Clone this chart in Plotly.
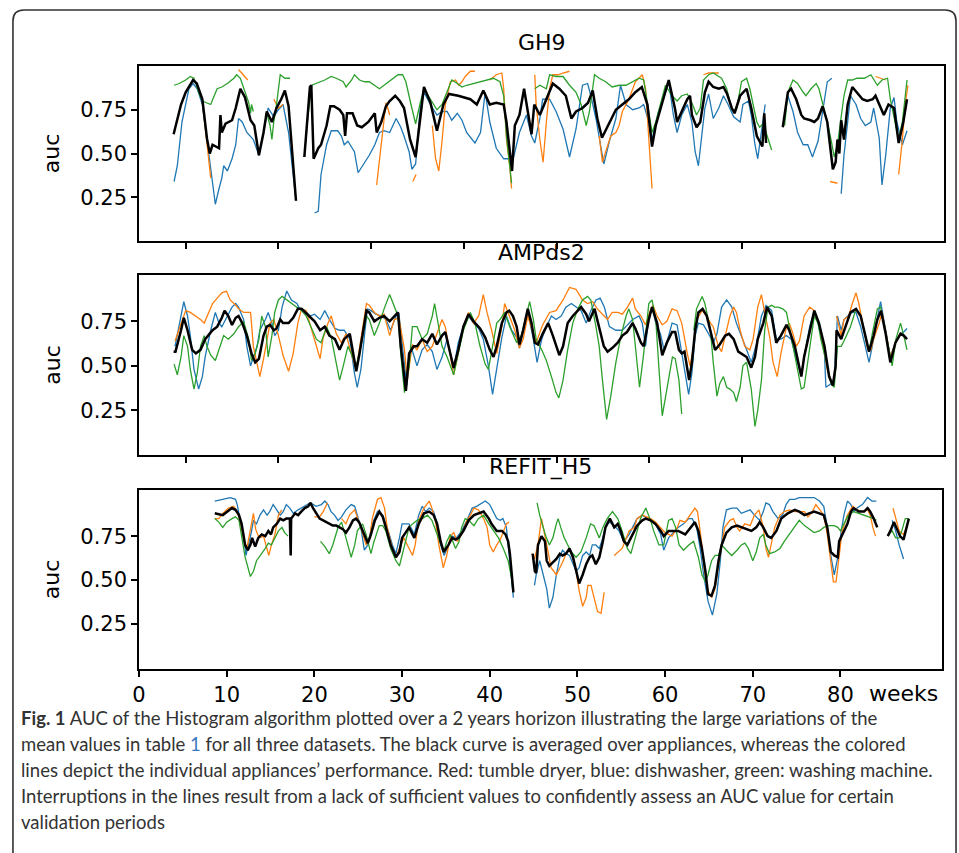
import plotly.graph_objects as go

# ---------------- data (week, auc) ; (None, None) marks a gap ----------------
gh9_black = [(8.7,.61),(9.0,.68),(9.5,.78),(10.0,.85),(10.8,.92),(11.2,.90),(11.8,.81),(12.3,.585),(12.6,.50),(12.9,.55),(13.2,.54),(13.6,.53),(13.75,.72),(13.9,.62),(14.3,.67),(15.0,.69),(15.4,.76),(15.9,.87),(16.4,.82),(17.0,.69),(17.4,.66),(17.9,.49),(18.4,.62),(18.75,.74),(19.3,.68),(19.8,.76),(20.3,.81),(20.7,.86),(21.1,.77),(21.4,.55),(21.9,.23),(None,None),
             (22.8,.48),(23.4,.88),(23.55,.89),(23.8,.47),(24.3,.53),(24.6,.55),(25.2,.66),(25.6,.77),(26.0,.77),(26.6,.75),(27.0,.72),(27.2,.60),(27.4,.73),(28.0,.73),(28.5,.66),(29.0,.65),(29.7,.68),(30.4,.73),(30.6,.62),(31.1,.68),(31.6,.77),(32.0,.80),(32.6,.83),(33.1,.80),(33.55,.76),(34.2,.58),(34.8,.48),(35.7,.88),(36.4,.79),(37.1,.63),(37.8,.78),(38.4,.84),(39.4,.83),(40.7,.81),(41.4,.78),(42.1,.86),(42.8,.78),(43.5,.79),(44.3,.78),(44.6,.68),(45.2,.40),(45.5,.66),(46.0,.72),(46.5,.87),(46.9,.74),(47.3,.61),(47.6,.78),(48.2,.72),(48.9,.81),(49.6,.90),(50.3,.87),(51.0,.83),(51.6,.70),(52.1,.74),(52.8,.76),(53.4,.79),(53.9,.86),(54.4,.70),(54.9,.59),(55.7,.68),(56.4,.75),(57.1,.78),(57.8,.81),(58.5,.85),(59.2,.88),(59.8,.78),(60.3,.54),(60.7,.66),(61.4,.79),(62.1,.92),(62.8,.75),(63.0,.68),(63.5,.74),(64.1,.81),(64.4,.83),(64.6,.72),(65.1,.65),(65.5,.68),(66.0,.85),(66.4,.91),(66.9,.88),(67.5,.87),(68.0,.88),(68.4,.84),(68.9,.76),(69.2,.73),(69.8,.83),(70.5,.87),(71.0,.76),(71.6,.60),(72.2,.54),(72.4,.73),(72.6,.56),(None,None),
             (74.4,.65),(74.95,.85),(75.3,.87),(75.85,.81),(76.4,.72),(76.7,.70),(77.4,.69),(77.8,.68),(78.2,.70),(78.7,.77),(79.2,.68),(79.6,.49),(79.8,.41),(80.1,.45),(80.3,.58),(80.5,.50),(80.7,.69),(81.0,.58),(81.4,.78),(81.9,.88),(82.4,.85),(83.0,.81),(83.5,.80),(84.1,.81),(84.4,.83),(84.8,.78),(85.3,.72),(85.8,.78),(86.4,.76),(86.9,.56),(87.4,.68),(87.8,.81)]
gh9_blue = [(8.75,.34),(9.1,.43),(9.6,.68),(10.35,.87),(10.8,.90),(11.25,.87),(11.8,.78),(12.3,.58),(12.7,.40),(13.2,.21),(13.6,.30),(13.9,.36),(14.1,.43),(14.5,.40),(15.0,.47),(15.4,.55),(15.7,.70),(16.1,.68),(16.6,.62),(17.3,.58),(17.9,.49),(18.4,.62),(18.9,.76),(19.5,.71),(20.0,.75),(20.5,.78),(21.1,.62),(21.4,.47),(21.9,.23),(None,None),
            (23.9,.16),(24.3,.17),(24.6,.38),(25.2,.55),(25.7,.63),(26.4,.63),(26.8,.60),(27.1,.55),(27.5,.57),(28.2,.51),(28.6,.39),(29.3,.45),(29.8,.49),(30.4,.55),(30.9,.62),(31.4,.63),(32.0,.62),(32.7,.70),(33.2,.65),(33.55,.60),(34.1,.51),(34.4,.41),(34.8,.44),(35.3,.76),(35.7,.85),(36.4,.78),(37.1,.72),(37.65,.74),(38.2,.74),(38.7,.69),(39.3,.73),(39.8,.69),(40.3,.62),(41.2,.56),(41.8,.62),(42.3,.85),(42.8,.68),(43.5,.53),(44.3,.47),(44.95,.47),(45.15,.43),(46.0,.62),(46.75,.72),(47.3,.60),(47.65,.56),(48.2,.70),(48.5,.81),(49.25,.81),(49.95,.74),(50.7,.64),(51.4,.48),(52.1,.64),(52.8,.89),(53.35,.90),(53.7,.83),(54.25,.70),(54.8,.53),(55.1,.44),(55.7,.57),(56.4,.70),(56.9,.89),(57.5,.78),(58.2,.75),(58.9,.76),(59.4,.78),(59.95,.68),(60.3,.58),(61.0,.74),(62.1,.91),(62.6,.72),(63.0,.62),(63.5,.72),(64.1,.78),(64.6,.68),(64.95,.51),(65.3,.43),(65.7,.62),(66.0,.76),(66.4,.84),(66.9,.70),(67.5,.76),(68.0,.83),(68.5,.78),(69.1,.71),(69.8,.68),(70.1,.78),(70.7,.80),(71.0,.72),(71.4,.55),(71.7,.47),(71.9,.55),(72.3,.70),(72.5,.78),(None,None),
            (74.95,.83),(75.5,.74),(76.0,.62),(76.6,.55),(77.1,.55),(77.6,.48),(78.2,.57),(78.7,.74),(79.2,.91),(79.7,.93),(None,None),
            (80.7,.27),(81.0,.49),(81.4,.68),(81.7,.83),(82.3,.78),(82.8,.70),(83.3,.66),(83.9,.68),(84.2,.76),(84.8,.59),(85.1,.32),(85.5,.49),(86.0,.76),(86.4,.82),(86.7,.68),(87.3,.55),(87.8,.63)]
gh9_green = [(8.75,.89),(9.3,.90),(10.0,.92),(10.5,.94),(10.9,.93),(11.4,.85),(11.8,.80),(12.3,.79),(12.7,.78),(13.0,.82),(13.4,.87),(13.9,.88),(14.5,.90),(15.2,.93),(15.5,.95),(15.9,.93),(16.25,.88),(16.8,.79),(17.0,.73),(17.1,.78),(17.3,.74),(None,None),
             (18.75,.73),(19.1,.66),(19.3,.58),(19.5,.68),(19.8,.78),(20.2,.95),(20.7,.93),(21.25,.93),(None,None),
             (22.8,.48),(23.2,.72),(23.6,.89),(24.1,.90),(25.0,.92),(25.7,.94),(26.25,.93),(27.0,.91),(27.3,.88),(27.9,.92),(28.2,.95),(28.75,.92),(29.3,.91),(29.8,.91),(30.35,.89),(30.9,.87),(31.4,.89),(32.1,.92),(32.9,.95),(33.4,.95),(33.75,.91),(34.3,.78),(34.8,.67),(35.3,.79),(35.7,.87),(36.4,.81),(37.1,.75),(37.65,.78),(38.2,.85),(38.7,.92),(39.3,.90),(39.8,.88),(40.3,.89),(41.05,.90),(41.75,.91),(42.5,.92),(43.2,.93),(43.9,.91),(44.3,.83),(44.6,.60),(45.15,.33),(None,None),
             (47.65,.87),(48.2,.89),(48.9,.87),(49.25,.95),(49.95,.94),(50.7,.94),(51.4,.89),(52.1,.85),(52.65,.78),(53.2,.66),(53.55,.74),(54.1,.95),(54.6,.93),(55.3,.91),(56.0,.88),(56.75,.89),(57.5,.89),(58.2,.91),(58.9,.93),(59.4,.92),(59.8,.78),(60.3,.62),(60.7,.68),(61.75,.89),(62.46,.83),(63.0,.80),(63.5,.83),(64.1,.84),(64.6,.79),(65.1,.72),(65.5,.76),(65.85,.92),(66.4,.95),(66.9,.96),(67.5,.94),(67.8,.93),(68.35,.87),(68.9,.75),(69.4,.75),(69.95,.91),(70.5,.93),(70.85,.87),(71.2,.78),(71.6,.68),(71.9,.65),(72.3,.67),(72.6,.62),(73.2,.52),(None,None),
             (74.6,.66),(74.95,.85),(75.5,.92),(76.0,.90),(76.6,.85),(76.9,.83),(77.45,.87),(78.0,.90),(78.3,.87),(78.7,.79),(79.2,.68),(79.6,.58),(79.95,.48),(80.3,.55),(80.7,.70),(81.0,.83),(81.4,.92),(81.9,.92),(82.4,.93),(83.2,.93),(83.9,.95),(84.6,.89),(85.1,.92),(85.7,.93),(86.0,.81),(86.55,.68),(86.9,.58),(87.3,.68),(87.6,.83),(87.8,.92)]
gh9_orange = [(11.8,.80),(12.3,.57),(12.7,.36),(None,None),(15.7,.98),(16.7,.92),(None,None),(19.5,.81),(20.0,.76),(20.5,.78),(None,None),
              (30.6,.32),(31.25,.62),(31.6,.79),(31.8,.76),(32.0,.72),(None,None),(34.5,.34),(34.85,.38),(None,None),
              (36.6,.66),(36.95,.47),(37.3,.40),(37.65,.57),(38.0,.78),(38.55,.91),(39.1,.92),(39.45,.89),(39.8,.91),(40.15,.94),(40.7,.97),(41.2,.97),(None,None),
              (42.8,.92),(43.5,.95),(44.1,.96),(44.3,.87),(44.6,.58),(44.95,.43),(45.15,.30),(None,None),
              (47.65,.95),(47.8,.78),(48.2,.58),(48.55,.45),(48.9,.68),(49.25,.87),(49.6,.95),(50.15,.95),(50.7,.96),(51.4,.97),(None,None),
              (54.6,.60),(54.95,.45),(55.3,.51),(55.85,.60),(56.4,.62),(56.75,.66),(57.1,.74),(57.8,.81),(58.5,.91),(59.25,.95),(59.6,.87),(59.95,.58),(60.3,.30),(None,None),
              (65.85,.95),(66.4,.96),(67.5,.96),(None,None),(79.5,.34),(80.3,.33),(None,None),(84.4,.94),(85.5,.92),(None,None),
              (86.9,.38),(87.3,.58),(87.6,.78),(87.9,.89)]

amp_black = [(8.7,.58),(8.9,.58),(9.5,.70),(9.8,.77),(10.2,.70),(10.7,.59),(11.1,.57),(11.6,.59),(12.1,.65),(12.9,.70),(13.4,.72),(13.9,.77),(14.2,.81),(14.6,.78),(15.0,.73),(15.4,.77),(15.7,.78),(16.1,.74),(16.6,.67),(17.1,.57),(17.5,.52),(17.9,.54),(18.4,.67),(18.75,.72),(19.1,.73),(19.5,.70),(19.8,.71),(20.2,.76),(20.5,.74),(21.1,.74),(21.6,.77),(22.1,.82),(22.5,.82),(22.9,.80),(23.4,.77),(23.9,.75),(24.5,.70),(25.0,.72),(25.5,.67),(26.1,.65),(26.6,.59),(27.1,.65),(27.7,.68),(28.0,.59),(28.4,.47),(28.75,.57),(29.1,.69),(29.5,.81),(29.8,.80),(30.35,.75),(30.9,.77),(31.4,.78),(32.0,.75),(32.5,.78),(32.9,.80),(33.2,.61),(33.75,.36),(34.1,.57),(34.6,.61),(34.95,.61),(35.5,.65),(36.05,.63),(36.6,.68),(37.1,.62),(37.65,.67),(38.0,.69),(38.55,.57),(38.9,.49),(39.4,.59),(39.95,.72),(40.5,.79),(41.05,.75),(41.75,.71),(42.3,.66),(42.8,.59),(43.2,.55),(43.55,.61),(44.1,.74),(44.6,.80),(44.9,.81),(45.3,.78),(45.7,.72),(46.0,.62),(46.4,.70),(46.9,.82),(47.3,.74),(47.65,.63),(48.0,.62),(48.5,.68),(49.1,.74),(49.6,.67),(50.15,.58),(50.3,.56),(50.7,.61),(51.2,.74),(51.75,.78),(52.3,.81),(52.65,.83),(53.2,.79),(53.5,.75),(54.1,.82),(54.6,.71),(55.1,.61),(55.5,.58),(56.0,.60),(56.6,.63),(57.1,.67),(57.6,.69),(58.2,.74),(58.5,.71),(59.1,.63),(59.4,.61),(59.95,.76),(60.3,.83),(60.85,.74),(61.4,.56),(61.9,.63),(62.46,.69),(62.8,.69),(63.2,.59),(63.5,.57),(63.8,.58),(64.1,.49),(64.3,.42),(64.6,.52),(64.95,.70),(65.3,.80),(65.75,.82),(66.2,.78),(66.6,.70),(67.1,.59),(67.6,.62),(68.2,.67),(68.6,.68),(69.1,.65),(69.6,.58),(70.5,.55),(71.0,.49),(71.4,.55),(71.7,.65),(72.3,.74),(72.7,.83),(73.2,.78),(73.7,.63),(74.2,.67),(74.8,.73),(75.1,.70),(75.7,.61),(76.0,.53),(76.4,.44),(76.7,.55),(77.3,.70),(77.8,.81),(78.3,.74),(78.9,.61),(79.4,.44),(79.8,.39),(80.1,.50),(80.2,.70),(80.7,.65),(81.2,.72),(81.7,.80),(82.3,.82),(82.8,.78),(83.3,.67),(83.7,.58),(84.2,.67),(84.6,.76),(85.0,.81),(85.5,.68),(86.0,.52),(86.55,.63),(87.1,.68),(87.45,.67),(87.8,.65)]
amp_blue = [(8.85,.61),(9.5,.78),(9.8,.86),(10.2,.78),(10.5,.67),(10.9,.48),(11.4,.37),(11.8,.44),(12.1,.55),(12.7,.70),(13.2,.80),(13.6,.74),(13.9,.72),(14.5,.78),(15.0,.83),(15.4,.85),(15.7,.83),(16.25,.76),(16.6,.61),(17.0,.50),(17.3,.55),(17.7,.61),(18.0,.70),(18.6,.76),(18.9,.80),(19.3,.74),(19.6,.67),(20.0,.70),(20.4,.83),(20.9,.92),(21.4,.87),(22.0,.85),(22.3,.82),(22.9,.81),(23.4,.78),(23.9,.79),(24.5,.76),(25.0,.81),(25.5,.76),(26.1,.71),(26.6,.70),(27.1,.70),(27.7,.65),(28.2,.46),(28.5,.38),(28.9,.48),(29.3,.68),(29.6,.82),(30.0,.81),(30.5,.79),(31.1,.78),(31.6,.76),(32.1,.70),(32.7,.78),(33.0,.79),(33.4,.61),(33.85,.39),(34.3,.61),(34.95,.50),(35.5,.59),(36.05,.62),(36.6,.58),(37.1,.48),(37.65,.55),(38.2,.65),(38.9,.48),(39.4,.63),(39.95,.72),(40.5,.78),(41.05,.74),(41.6,.71),(42.1,.65),(42.65,.50),(43.1,.34),(43.55,.48),(44.1,.66),(44.6,.78),(45.15,.70),(45.7,.66),(46.0,.60),(46.4,.70),(46.9,.80),(47.5,.65),(47.9,.52),(48.4,.65),(48.9,.72),(49.45,.78),(49.95,.76),(50.5,.78),(51.0,.83),(51.6,.85),(52.1,.83),(52.65,.81),(53.2,.74),(53.7,.81),(54.25,.87),(54.7,.88),(55.15,.83),(55.7,.72),(56.4,.70),(57.1,.70),(57.65,.73),(58.2,.76),(58.9,.78),(59.25,.74),(59.6,.61),(59.95,.78),(60.3,.83),(60.7,.74),(61.2,.68),(61.6,.59),(62.1,.67),(62.46,.74),(63.0,.73),(63.5,.57),(63.9,.46),(64.25,.34),(64.6,.46),(64.95,.67),(65.3,.74),(65.85,.73),(66.4,.68),(66.9,.63),(67.3,.68),(67.8,.83),(68.35,.87),(68.9,.83),(69.4,.74),(69.95,.67),(70.5,.59),(71.0,.52),(71.6,.63),(72.1,.78),(72.6,.84),(73.2,.81),(73.7,.65),(74.2,.65),(74.8,.67),(75.3,.65),(75.8,.55),(76.4,.45),(76.7,.55),(77.3,.72),(77.8,.81),(78.3,.72),(78.9,.57),(79.05,.38),(79.6,.40),(79.95,.42),(80.3,.78),(80.7,.70),(81.0,.76),(81.4,.78),(81.9,.80),(82.3,.80),(82.8,.72),(83.3,.61),(83.7,.52),(84.05,.61),(84.4,.72),(84.95,.86),(85.5,.70),(86.0,.55),(86.55,.63),(87.1,.68),(87.45,.69),(87.8,.71)]
amp_orange = [(8.85,.64),(9.5,.74),(10.0,.81),(10.5,.80),(11.1,.78),(11.6,.76),(12.0,.74),(12.3,.78),(12.9,.85),(13.4,.88),(13.9,.91),(14.4,.92),(14.8,.87),(15.4,.84),(15.7,.82),(16.25,.80),(17.0,.80),(17.3,.61),(17.7,.50),(18.0,.44),(18.4,.54),(18.75,.65),(19.1,.74),(19.5,.76),(20.0,.67),(20.5,.56),(21.1,.47),(21.6,.57),(22.1,.74),(22.5,.82),(23.0,.81),(23.6,.70),(24.1,.61),(24.5,.54),(24.8,.65),(25.35,.74),(25.7,.78),(26.25,.68),(26.8,.63),(27.3,.68),(27.85,.57),(28.4,.48),(28.9,.65),(29.5,.85),(29.8,.84),(30.35,.80),(30.9,.78),(31.4,.79),(32.0,.67),(32.5,.76),(33.0,.77),(33.6,.59),(33.9,.42),(34.45,.62),(34.95,.59),(35.5,.65),(36.05,.58),(36.6,.61),(37.1,.68),(37.65,.76),(38.0,.72),(38.55,.55),(38.9,.45),(39.4,.57),(39.95,.72),(40.5,.80),(41.05,.74),(41.6,.78),(42.1,.90),(42.5,.80),(43.0,.70),(43.55,.57),(44.1,.72),(44.4,.85),(44.95,.78),(45.5,.70),(46.0,.60),(46.4,.65),(46.9,.78),(47.5,.67),(47.8,.63),(48.5,.73),(49.25,.80),(49.95,.81),(50.7,.87),(51.4,.94),(52.1,.93),(52.8,.87),(53.35,.85),(53.9,.86),(54.4,.82),(54.95,.79),(55.5,.76),(56.0,.80),(56.6,.80),(57.1,.79),(57.65,.83),(58.2,.88),(58.5,.82),(59.1,.78),(59.6,.73),(60.1,.81),(60.4,.84),(60.85,.78),(61.4,.73),(61.9,.75),(62.46,.82),(63.0,.81),(63.5,.74),(64.1,.57),(64.4,.50),(64.8,.61),(65.1,.76),(65.7,.81),(66.2,.78),(66.6,.74),(66.9,.72),(67.45,.61),(67.8,.58),(68.2,.67),(68.7,.78),(69.1,.83),(69.4,.80),(69.8,.70),(70.3,.61),(70.85,.59),(71.2,.65),(71.7,.83),(72.1,.90),(72.45,.80),(73.0,.66),(73.35,.52),(73.8,.44),(74.2,.57),(74.8,.72),(75.1,.74),(75.5,.68),(75.85,.61),(76.2,.64),(76.7,.78),(77.3,.83),(77.8,.81),(78.3,.74),(78.9,.57),(79.2,.48),(79.6,.42),(None,None),
              (80.2,.78),(80.7,.67),(81.0,.76),(81.5,.78),(81.9,.85),(82.3,.91),(82.6,.85),(83.2,.70),(83.5,.61),(83.9,.59),(84.2,.65),(84.8,.74),(85.1,.80),(85.65,.65),(86.0,.55),(86.55,.63),(87.1,.68),(87.45,.67)]
amp_green = [(8.75,.51),(9.1,.45),(9.5,.55),(9.8,.67),(10.2,.61),(10.5,.48),(10.9,.37),(11.25,.46),(11.6,.61),(12.0,.67),(12.3,.61),(12.7,.56),(13.2,.53),(13.6,.59),(14.1,.67),(14.6,.65),(15.2,.68),(15.7,.72),(16.25,.75),(16.8,.65),(17.1,.53),(17.5,.57),(17.9,.65),(18.2,.78),(18.6,.72),(18.9,.55),(19.3,.67),(19.6,.80),(20.0,.87),(20.4,.89),(20.9,.87),(21.4,.85),(22.0,.83),(22.5,.81),(23.0,.78),(23.6,.71),(24.1,.65),(24.6,.63),(25.2,.72),(25.7,.66),(26.25,.52),(26.6,.42),(27.0,.50),(27.5,.61),(28.0,.55),(28.4,.50),(28.9,.61),(29.5,.78),(29.8,.76),(30.35,.67),(30.9,.74),(31.4,.82),(32.0,.90),(32.5,.83),(32.9,.78),(33.2,.57),(33.6,.35),(34.1,.50),(34.45,.72),(34.95,.72),(35.5,.65),(36.05,.68),(36.6,.78),(36.85,.85),(37.1,.78),(37.65,.61),(38.2,.55),(38.9,.45),(39.4,.57),(39.95,.70),(40.7,.80),(41.2,.74),(41.75,.61),(42.3,.51),(42.65,.48),(43.0,.59),(43.55,.74),(43.9,.76),(44.4,.80),(44.95,.72),(45.7,.63),(46.2,.67),(46.75,.78),(47.1,.86),(47.5,.76),(47.8,.65),(48.4,.59),(48.9,.53),(49.45,.44),(49.95,.35),(50.25,.32),(50.7,.42),(51.2,.59),(51.75,.74),(52.3,.82),(52.8,.87),(53.35,.89),(53.7,.87),(54.25,.72),(54.6,.61),(54.95,.42),(55.4,.20),(55.85,.33),(56.4,.52),(56.95,.67),(57.5,.78),(57.8,.82),(58.2,.76),(58.5,.61),(58.95,.38),(59.4,.57),(59.95,.85),(60.3,.87),(60.7,.76),(61.0,.52),(61.4,.22),(61.9,.37),(62.5,.55),(62.8,.54),(63.2,.42),(63.5,.23),(None,None),
             (64.8,.70),(65.1,.82),(65.7,.89),(66.0,.85),(66.6,.70),(66.9,.52),(67.3,.33),(67.6,.40),(68.0,.44),(68.35,.38),(68.7,.37),(69.1,.35),(69.4,.30),(69.8,.38),(70.1,.50),(70.5,.52),(71.0,.37),(71.4,.16),(71.7,.25),(72.1,.42),(72.45,.70),(72.8,.83),(73.2,.84),(73.5,.83),(73.9,.83),(74.4,.82),(74.8,.80),(75.3,.67),(75.7,.57),(76.0,.48),(76.4,.37),(76.7,.38),(77.1,.52),(77.45,.67),(77.8,.78),(78.2,.74),(78.5,.65),(79.1,.52),(79.6,.40),(79.95,.38),(80.3,.61),(80.7,.61),(81.0,.64),(81.7,.72),(82.3,.82),(82.8,.78),(83.3,.67),(83.7,.58),(84.05,.68),(84.6,.82),(84.95,.83),(85.3,.74),(85.8,.61),(86.2,.50),(86.6,.65),(87.1,.74),(87.45,.67),(87.8,.59)]

refit_black = [(8.64,.88),(9.55,.87),(10.6,.91),(11.0,.90),(11.4,.87),(11.7,.82),(12.1,.70),(12.4,.67),(12.7,.70),(12.9,.74),(13.25,.69),(13.6,.74),(14.0,.76),(14.4,.75),(14.75,.78),(15.05,.76),(15.3,.80),(15.7,.82),(16.1,.85),(16.45,.84),(16.8,.85),(17.2,.85),(17.3,.64),(17.35,.85),(17.8,.88),(18.15,.87),(18.5,.89),(18.9,.91),(19.3,.92),(19.55,.94),(19.85,.91),(20.2,.88),(20.6,.85),(21.0,.84),(21.4,.83),(21.7,.82),(22.1,.81),(22.5,.81),(22.9,.80),(23.25,.79),(23.6,.77),(24.0,.80),(24.4,.84),(24.75,.85),(25.1,.83),(25.7,.76),(26.1,.71),(26.45,.76),(26.9,.84),(27.4,.89),(27.8,.86),(28.15,.80),(28.7,.70),(29.3,.63),(29.7,.66),(30.0,.74),(30.5,.78),(30.8,.80),(31.4,.74),(31.9,.82),(32.5,.88),(33.1,.89),(33.6,.87),(34.0,.82),(34.4,.72),(34.75,.66),(35.3,.70),(35.7,.74),(36.1,.73),(36.45,.74),(37.0,.78),(37.6,.84),(38.2,.87),(38.7,.88),(39.3,.89),(39.9,.85),(40.2,.82),(40.8,.78),(41.4,.78),(41.8,.76),(42.1,.72),(42.3,.65),(42.6,.51),(42.7,.43),(None,None),
               (44.9,.65),(45.15,.55),(45.3,.54),(45.5,.70),(45.9,.75),(46.3,.72),(46.5,.61),(46.8,.58),(47.2,.60),(47.6,.62),(48.0,.65),(48.3,.64),(48.7,.65),(49.1,.68),(49.5,.63),(49.9,.55),(50.2,.48),(50.6,.53),(51.0,.59),(51.4,.63),(51.7,.64),(52.1,.59),(52.5,.63),(52.9,.72),(53.2,.80),(53.7,.85),(54.2,.80),(54.6,.82),(54.95,.78),(55.3,.72),(55.7,.70),(56.3,.76),(56.8,.81),(57.4,.84),(57.8,.85),(58.35,.84),(58.9,.82),(59.5,.78),(59.85,.75),(60.4,.78),(60.8,.78),(61.5,.78),(62.3,.76),(62.9,.80),(63.4,.83),(63.8,.78),(64.2,.68),(64.6,.55),(64.9,.42),(65.3,.41),(65.7,.47),(66.1,.61),(66.45,.70),(67.0,.77),(67.6,.80),(68.2,.81),(68.7,.80),(69.3,.79),(69.85,.78),(70.4,.80),(70.8,.83),(71.2,.80),(71.7,.75),(72.1,.74),(72.7,.78),(73.25,.85),(74.0,.88),(74.8,.90),(75.3,.89),(75.9,.87),(76.4,.88),(77.0,.89),(77.6,.88),(78.1,.87),(78.5,.80),(78.9,.66),(79.3,.64),(79.7,.63),(79.85,.72),(80.2,.76),(80.8,.82),(81.2,.89),(81.5,.91),(82.1,.89),(82.7,.89),(83.1,.91),(83.4,.89),(83.8,.85),(84.2,.80),(None,None),
               (85.4,.75),(85.7,.78),(86.1,.83),(86.5,.78),(86.8,.75),(87.2,.73),(87.5,.79),(87.8,.85)]
refit_blue = [(8.64,.95),(9.5,.96),(10.4,.97),(11.0,.96),(11.2,.93),(11.5,.85),(11.9,.76),(12.2,.64),(12.5,.70),(12.8,.77),(13.05,.84),(13.4,.82),(13.8,.87),(14.2,.90),(14.6,.87),(14.9,.89),(15.3,.93),(15.7,.90),(16.1,.87),(16.45,.89),(16.8,.93),(17.2,.91),(17.6,.88),(18.15,.90),(18.9,.92),(19.55,.94),(20.2,.92),(20.8,.93),(21.2,.95),(21.55,.93),(21.9,.89),(22.3,.87),(22.7,.84),(23.1,.86),(23.6,.90),(24.2,.93),(24.6,.92),(24.9,.87),(25.3,.80),(25.7,.67),(26.1,.70),(26.6,.82),(27.2,.89),(27.8,.87),(28.3,.80),(28.9,.70),(29.3,.65),(29.7,.74),(30.0,.82),(30.4,.82),(30.8,.82),(31.4,.76),(31.9,.87),(32.3,.92),(32.7,.89),(33.1,.91),(33.6,.89),(34.0,.82),(34.4,.70),(34.8,.64),(35.3,.70),(35.7,.75),(36.2,.74),(36.8,.78),(37.4,.84),(38.0,.91),(38.5,.92),(39.1,.94),(39.5,.95),(40.0,.93),(40.4,.89),(40.8,.85),(41.2,.84),(41.5,.85),(41.9,.80),(42.3,.61),(42.7,.40),(None,None),
              (45.1,.47),(45.3,.53),(45.7,.61),(46.1,.53),(46.5,.45),(46.8,.34),(47.2,.40),(47.6,.53),(48.0,.63),(48.3,.67),(48.7,.65),(49.1,.64),(49.5,.59),(49.85,.55),(50.2,.57),(50.6,.64),(51.0,.66),(51.4,.64),(51.7,.70),(52.1,.70),(52.5,.68),(52.9,.74),(53.2,.80),(53.6,.83),(54.0,.82),(54.4,.80),(54.75,.78),(55.3,.72),(55.9,.76),(56.5,.82),(56.8,.85),(57.4,.87),(58.0,.85),(58.35,.84),(58.9,.82),(59.5,.76),(59.85,.67),(60.4,.74),(60.8,.76),(61.5,.80),(62.1,.82),(62.7,.85),(63.1,.85),(63.6,.80),(64.0,.68),(64.4,.53),(64.9,.38),(65.4,.30),(65.9,.42),(66.3,.61),(66.6,.80),(67.0,.90),(67.6,.91),(68.2,.91),(68.7,.88),(69.3,.89),(69.7,.90),(70.2,.87),(70.8,.84),(71.2,.89),(71.5,.94),(71.9,.93),(72.3,.89),(72.9,.85),(73.4,.87),(73.8,.93),(74.2,.96),(74.8,.96),(75.3,.97),(75.9,.97),(76.45,.97),(77.0,.97),(77.6,.95),(78.1,.92),(78.5,.80),(78.9,.64),(79.3,.53),(79.7,.63),(80.1,.78),(80.4,.87),(80.8,.95),(81.2,.93),(81.5,.89),(81.9,.91),(82.5,.93),(83.1,.97),(83.6,.95),(84.1,.95),(None,None),
              (85.9,.84),(86.3,.78),(86.7,.70),(87.2,.62)]
refit_orange = [(8.64,.85),(9.1,.85),(9.55,.88),(10.2,.91),(10.8,.92),(11.2,.89),(11.5,.84),(11.9,.74),(12.3,.68),(12.7,.80),(13.05,.88),(13.3,.79),(13.7,.74),(14.2,.75),(14.6,.68),(14.8,.64),(15.1,.70),(15.5,.76),(15.9,.87),(16.3,.90),(None,None),
                (20.0,.86),(20.6,.86),(21.0,.89),(21.5,.94),(None,None),
                (23.1,.85),(23.6,.82),(24.0,.87),(24.6,.90),(25.3,.80),(25.9,.70),(26.3,.73),(26.6,.85),(27.2,.96),(27.6,.97),(28.0,.91),(28.3,.80),(28.9,.68),(29.3,.63),(29.85,.70),(30.2,.74),(30.6,.70),(31.2,.64),(31.5,.70),(31.9,.84),(32.5,.91),(33.1,.95),(33.4,.91),(33.8,.84),(34.2,.70),(34.7,.57),(35.1,.64),(35.5,.75),(35.9,.77),(36.3,.72),(36.8,.76),(37.4,.84),(37.8,.87),(38.2,.91),(38.7,.90),(39.3,.85),(39.7,.80),(40.0,.70),(40.4,.66),(40.8,.70),(41.2,.73),(41.55,.78),(41.9,.82),(42.2,.83),(None,None),
                (44.8,.65),(45.1,.62),(45.5,.70),(45.9,.85),(46.5,.70),(47.0,.57),(47.6,.53),(48.0,.57),(48.3,.60),(48.7,.65),(49.1,.68),(49.5,.62),(49.85,.55),(50.2,.44),(50.6,.35),(51.0,.40),(51.2,.47),(51.55,.47),(51.9,.40),(52.3,.32),(52.7,.31),(53.05,.43),(None,None),
                (54.2,.64),(54.6,.66),(55.1,.68),(55.5,.73),(55.9,.78),(56.5,.80),(56.8,.85),(57.4,.87),(58.0,.86),(58.35,.85),(58.9,.83),(59.5,.80),(60.0,.77),(60.4,.76),(60.8,.75),(61.4,.80),(61.7,.84),(62.3,.83),(62.9,.87),(63.4,.91),(63.7,.89),(64.1,.74),(64.5,.55),(64.9,.44),(65.3,.40),(65.7,.45),(66.1,.59),(66.45,.70),(66.8,.80),(67.4,.84),(67.8,.85),(68.2,.80),(68.5,.78),(69.1,.82),(69.7,.81),(70.2,.87),(70.7,.90),(71.2,.80),(71.5,.68),(71.8,.63),(72.1,.70),(72.5,.80),(73.1,.87),(73.6,.89),(74.2,.90),(74.8,.89),(75.3,.89),(75.9,.89),(76.3,.86),(76.8,.89),(77.2,.93),(77.8,.89),(78.1,.87),(78.5,.76),(78.9,.61),(79.2,.49),(79.5,.49),(79.85,.63),(80.2,.78),(80.8,.87),(81.4,.92),(81.9,.90),(82.5,.89),(83.1,.90),(83.4,.87),(83.7,.80),(84.0,.75),(None,None),
                (86.0,.91),(86.3,.85),(86.7,.78),(87.2,.76),(87.6,.81)]
refit_green = [(8.64,.85),(9.1,.83),(9.55,.80),(10.0,.83),(10.6,.85),(11.0,.86),(11.4,.84),(11.7,.74),(12.1,.63),(12.7,.52),(13.05,.55),(13.4,.61),(14.0,.65),(14.4,.68),(14.75,.71),(15.1,.70),(15.5,.74),(15.9,.78),(16.3,.80),(16.6,.77),(17.0,.75),(None,None),
               (20.7,.72),(21.2,.69),(21.7,.65),(22.1,.70),(22.7,.80),(23.1,.83),(23.6,.74),(24.2,.63),(24.6,.70),(24.9,.78),(25.5,.82),(25.9,.76),(26.45,.65),(26.8,.72),(27.4,.81),(27.8,.81),(28.15,.78),(28.7,.68),(29.3,.61),(29.7,.58),(30.3,.70),(30.8,.80),(31.2,.82),(31.7,.84),(32.3,.85),(32.9,.87),(33.4,.84),(33.9,.77),(34.4,.71),(34.75,.66),(35.1,.72),(35.5,.76),(36.1,.68),(36.5,.72),(36.8,.80),(37.2,.85),(37.6,.84),(38.2,.81),(38.7,.85),(39.3,.87),(39.9,.82),(40.4,.78),(41.0,.74),(41.55,.68),(42.1,.61),(42.5,.51),(42.7,.43),(None,None),
               (45.4,.94),(45.7,.87),(46.1,.80),(46.4,.75),(46.8,.70),(47.2,.74),(47.6,.82),(47.8,.85),(48.1,.80),(48.5,.74),(48.9,.70),(49.3,.66),(49.85,.63),(50.4,.66),(51.0,.74),(51.5,.82),(51.9,.81),(52.5,.74),(52.9,.80),(53.4,.85),(54.0,.89),(54.6,.85),(55.1,.78),(55.7,.68),(56.1,.65),(56.6,.74),(57.2,.85),(57.8,.91),(58.35,.84),(58.7,.78),(59.3,.70),(59.85,.70),(60.4,.84),(60.8,.85),(61.2,.80),(61.6,.70),(62.1,.67),(62.7,.70),(63.25,.72),(63.8,.63),(64.2,.53),(64.6,.49),(64.9,.53),(65.3,.61),(65.7,.64),(66.1,.64),(66.45,.70),(67.0,.67),(67.6,.64),(68.2,.67),(68.7,.70),(69.1,.71),(69.5,.68),(70.0,.61),(70.4,.66),(70.8,.74),(71.2,.76),(71.5,.70),(71.9,.65),(72.5,.66),(73.1,.68),(73.6,.72),(74.2,.76),(74.8,.80),(75.3,.84),(75.9,.81),(76.45,.79),(77.0,.77),(77.6,.78),(78.1,.80),(78.7,.81),(79.3,.81),(79.7,.80),(80.0,.78),(80.4,.82),(80.9,.87),(81.5,.89),(82.1,.88),(82.7,.87),(83.25,.86),(83.8,.85),(84.1,.84),(None,None),
               (85.5,.76),(85.9,.78),(86.3,.74),(86.7,.74),(87.0,.78),(87.4,.85),(87.8,.85)]

panel_titles = ["GH9", "AMPds2", "REFIT_H5"]
y_ticks = [0.25, 0.50, 0.75]
y_tick_text = ["0.25", "0.50", "0.75"]
x_ticks_top = [10, 20, 30, 40, 50, 60, 70, 80]
x_ticks_bottom = [0, 10, 20, 30, 40, 50, 60, 70, 80]
caption_lines = [
    "<b>Fig. 1</b> AUC of the Histogram algorithm plotted over a 2 years horizon illustrating the large variations of the",
    "mean values in table <span style='color:#3a78c2'>1</span> for all three datasets. The black curve is averaged over appliances, whereas the colored",
    "lines depict the individual appliances\u2019 performance. Red: tumble dryer, blue: dishwasher, green: washing machine.",
    "Interruptions in the lines result from a lack of sufficient values to confidently assess an AUC value for certain",
    "validation periods",
]

# ---------------- figure ----------------
W, H = 959, 853
C_BLUE, C_ORANGE, C_GREEN = "#1f77b4", "#ff7f0e", "#2ca02c"
AX_FONT = dict(family="DejaVu Sans", size=21, color="black")

def xs(s): return [p[0] for p in s]
def ys(s): return [p[1] for p in s]

fig = go.Figure()
panels = [("x", "y", gh9_blue, gh9_orange, gh9_green, gh9_black),
          ("x2", "y2", amp_blue, amp_orange, amp_green, amp_black),
          ("x3", "y3", refit_blue, refit_orange, refit_green, refit_black)]
for xa, ya, *series in panels:
    for s, col, lw in zip(series, [C_BLUE, C_ORANGE, C_GREEN, "black"], [1.3, 1.3, 1.3, 2.5]):
        fig.add_trace(go.Scatter(x=xs(s), y=ys(s), mode="lines", line=dict(color=col, width=lw),
                                 xaxis=xa, yaxis=ya, showlegend=False, hoverinfo="skip", connectgaps=False))

def px_x(p): return p / W
def px_y(p): return 1 - p / H

common = dict(showline=True, mirror=True, linecolor="black", linewidth=1.5, ticks="outside",
              ticklen=6, tickwidth=1.5, tickcolor="black", showgrid=False, zeroline=False,
              tickfont=AX_FONT, fixedrange=True)

# panel pixel boxes: (left, right, top, bottom)
boxes = [(133, 944, 66, 241), (133, 944, 275, 455), (133, 942, 490, 669)]
yranges = [[0.0, 1.0], [0.0, 1.01], [-0.007, 1.013]]
xranges = [[4.97, 91.8], [4.97, 91.8], [0.0, 91.6]]

lay = {}
for i, ((l, r, t, b), yr, xr) in enumerate(zip(boxes, yranges, xranges)):
    sfx = "" if i == 0 else str(i + 1)
    lay["xaxis" + sfx] = dict(common, domain=[px_x(l), px_x(r)], range=xr, anchor="y" + sfx,
                              tickvals=x_ticks_bottom if i == 2 else x_ticks_top,
                              showticklabels=(i == 2))
    lay["yaxis" + sfx] = dict(common, domain=[px_y(b), px_y(t)], range=yr, anchor="x" + sfx,
                              tickvals=y_ticks, ticktext=y_tick_text)

annotations = []
for (l, r, t, b), title in zip(boxes, panel_titles):
    annotations.append(dict(text=title, x=px_x((l + r) / 2), y=px_y(t - 23), xref="paper", yref="paper",
                            showarrow=False, xanchor="center", yanchor="middle",
                            font=dict(family="DejaVu Sans", size=22, color="black")))
    annotations.append(dict(text="auc", x=px_x(45), y=px_y((t + b) / 2), xref="paper", yref="paper",
                            showarrow=False, textangle=-90, xanchor="center", yanchor="middle",
                            font=dict(family="DejaVu Sans", size=22, color="black")))
annotations.append(dict(text="weeks", x=px_x(903), y=px_y(693), xref="paper", yref="paper",
                        showarrow=False, xanchor="center", yanchor="middle",
                        font=dict(family="DejaVu Sans", size=22, color="black")))
for k, line in enumerate(caption_lines):
    annotations.append(dict(text=line, x=px_x(12), y=px_y(718 + 26 * k), xref="paper", yref="paper",
                            showarrow=False, xanchor="left", yanchor="middle", align="left",
                            font=dict(family="Lato", size=18.5, color="#333333")))

# rounded frame around the figure (open at the bottom)
L, R, T, B, rr = 6, 956, 10, 860, 11
path = (f"M {px_x(L)},{px_y(B)} L {px_x(L)},{px_y(T + rr)} Q {px_x(L)},{px_y(T)} {px_x(L + rr)},{px_y(T)} "
        f"L {px_x(R - rr)},{px_y(T)} Q {px_x(R)},{px_y(T)} {px_x(R)},{px_y(T + rr)} L {px_x(R)},{px_y(B)}")
shapes = [dict(type="path", path=path, xref="paper", yref="paper", line=dict(color="#333333", width=1.6))]

fig.update_layout(width=W, height=H, margin=dict(l=0, r=0, t=0, b=0, pad=0),
                  paper_bgcolor="white", plot_bgcolor="white",
                  annotations=annotations, shapes=shapes, **lay)

fig.write_html("out.html", config={"responsive": False, "displayModeBar": False},
               post_script="document.body.style.margin='0';document.body.style.overflow='hidden';"
                           "document.documentElement.style.overflow='hidden';")
